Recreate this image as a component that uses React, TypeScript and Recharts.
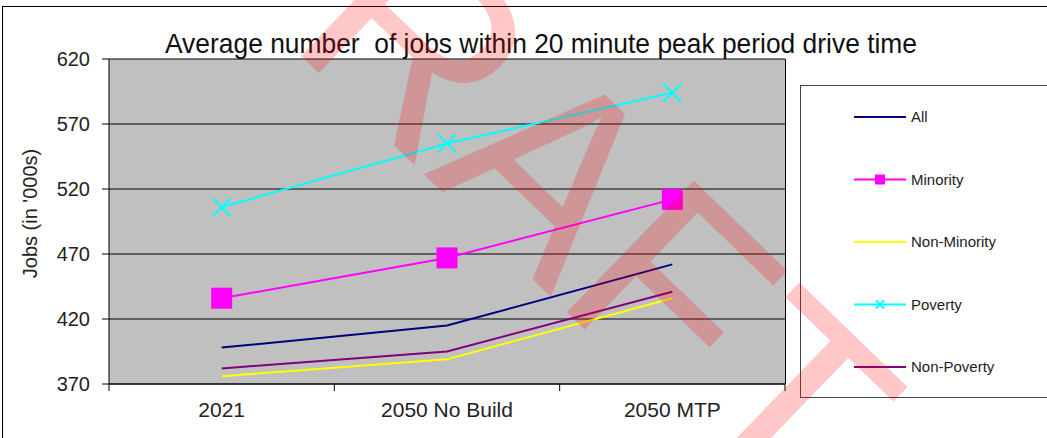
import React from "react";
import { LineChart, Line, XAxis, YAxis, CartesianGrid, Legend } from "recharts";

const categories = ["2021", "2050 No Build", "2050 MTP"];
const allJobs = [398, 415, 462];
const minorityJobs = [436, 467, 512];
const nonMinorityJobs = [376, 389, 436];
const povertyJobs = [506, 555, 594];
const nonPovertyJobs = [382, 395, 441];
const yTicks = [370, 420, 470, 520, 570, 620];

const W = 1047;
const H = 438;
const PLOT_L = 109;
const PLOT_R = 785;
const PLOT_T = 59;
const PLOT_B = 384;
const BAND = (PLOT_R - PLOT_L) / categories.length;
const FONT = "'Liberation Sans', Arial, sans-serif";

const data = categories.map((name, i) => ({
  name,
  all: allJobs[i],
  minority: minorityJobs[i],
  nonMinority: nonMinorityJobs[i],
  poverty: povertyJobs[i],
  nonPoverty: nonPovertyJobs[i],
}));

const series = [
  { key: "all", label: "All", color: "#000080", marker: "none" },
  { key: "minority", label: "Minority", color: "#ff00ff", marker: "square" },
  { key: "nonMinority", label: "Non-Minority", color: "#ffff00", marker: "none" },
  { key: "poverty", label: "Poverty", color: "#00ffff", marker: "x" },
  { key: "nonPoverty", label: "Non-Poverty", color: "#800080", marker: "none" },
];

function SquareDot(props: any) {
  const { cx, cy, fill } = props;
  if (cx == null || cy == null) return null;
  return <rect x={cx - 10.5} y={cy - 10.5} width={21} height={21} fill={fill} />;
}

function CrossDot(props: any) {
  const { cx, cy, stroke } = props;
  if (cx == null || cy == null) return null;
  return (
    <g stroke={stroke} strokeWidth={2}>
      <line x1={cx - 9} y1={cy - 9} x2={cx + 9} y2={cy + 9} />
      <line x1={cx - 9} y1={cy + 9} x2={cx + 9} y2={cy - 9} />
    </g>
  );
}

function XTick(props: any) {
  const { x, y, payload, index } = props;
  const last = index === categories.length - 1;
  return (
    <g>
      <line x1={x - BAND / 2} x2={x - BAND / 2} y1={y} y2={y + 7} stroke="#000" />
      {last && <line x1={x + BAND / 2} x2={x + BAND / 2} y1={y} y2={y + 7} stroke="#000" />}
      <text x={x} y={y + 33} textAnchor="middle" fontSize={21} fill="#222" fontFamily={FONT}>
        {payload.value}
      </text>
    </g>
  );
}

function LegendBox() {
  return (
    <div
      style={{
        width: 260,
        height: 313,
        border: "1px solid #444",
        background: "#fff",
        boxSizing: "border-box",
        position: "relative",
      }}
    >
      <svg width={258} height={311} style={{ position: "absolute", left: 0, top: 0 }}>
        {series.map((s, i) => {
          const cy = 31 + i * 62.5;
          return (
            <g key={s.key}>
              <line x1={53} x2={105} y1={cy} y2={cy} stroke={s.color} strokeWidth={2} />
              {s.marker === "square" && <rect x={74} y={cy - 5} width={10} height={10} fill={s.color} />}
              {s.marker === "x" && (
                <g stroke={s.color} strokeWidth={2}>
                  <line x1={75} y1={cy - 4} x2={83} y2={cy + 4} />
                  <line x1={75} y1={cy + 4} x2={83} y2={cy - 4} />
                </g>
              )}
              <text x={110} y={cy + 5} fontSize={15} fill="#222" fontFamily={FONT}>
                {s.label}
              </text>
            </g>
          );
        })}
      </svg>
    </div>
  );
}

export default function App() {
  return (
    <div style={{ position: "absolute", left: 0, top: 0, width: W, height: H, background: "#fff", overflow: "hidden" }}>
      <div style={{ position: "absolute", left: 2, top: 6, width: W, height: H, borderTop: "1px solid #000", borderLeft: "1px solid #000" }} />
      <LineChart
        width={W}
        height={H}
        data={data}
        margin={{ top: PLOT_T, right: W - PLOT_R, bottom: 0, left: 0 }}
      >
        <CartesianGrid vertical={false} stroke="#000" strokeWidth={1} fill="#c0c0c0" />
        <XAxis
          dataKey="name"
          height={H - PLOT_B}
          padding={{ left: BAND / 2, right: BAND / 2 }}
          axisLine={{ stroke: "#000" }}
          tickLine={false}
          tickSize={0}
          tickMargin={0}
          tick={<XTick />}
          interval={0}
        />
        <YAxis
          width={PLOT_L}
          domain={[370, 620]}
          ticks={yTicks}
          axisLine={{ stroke: "#000" }}
          tickLine={{ stroke: "#000" }}
          tickSize={7}
          tickMargin={12}
          tick={{ fontSize: 20, fill: "#222", fontFamily: FONT }}
          label={{
            value: "Jobs (in '000s)",
            angle: -90,
            position: "insideLeft",
            offset: 30,
            dy: -8,
            style: { fontSize: 20, fill: "#222", fontFamily: FONT, textAnchor: "middle" },
          }}
        />
        <Legend
          layout="horizontal"
          verticalAlign="middle"
          align="center"
          content={<LegendBox />}
          wrapperStyle={{ left: 800, top: 85, width: 260, height: 313 }}
        />
        {series.map((s) => (
          <Line
            key={s.key}
            dataKey={s.key}
            name={s.label}
            stroke={s.color}
            fill={s.color}
            strokeWidth={2}
            isAnimationActive={false}
            dot={s.marker === "square" ? <SquareDot /> : s.marker === "x" ? <CrossDot /> : false}
            activeDot={false}
          />
        ))}
      </LineChart>
      <div
        style={{
          position: "absolute",
          left: PLOT_L,
          top: PLOT_T,
          width: PLOT_R - PLOT_L + 1,
          height: PLOT_B - PLOT_T,
          borderRight: "1px solid #000",
          boxSizing: "border-box",
          pointerEvents: "none",
        }}
      />
      <svg width={W} height={H} style={{ position: "absolute", left: 0, top: 0, pointerEvents: "none" }}>
        <text
          x={541}
          y={53}
          textAnchor="middle"
          fontSize={28}
          textLength={752}
          lengthAdjust="spacingAndGlyphs"
          fill="#111"
          fontFamily={FONT}
          style={{ whiteSpace: "pre" }}
        >
          Average number  of jobs within 20 minute peak period drive time
        </text>
        <text
          transform="translate(466,215) rotate(44)"
          textAnchor="middle"
          fontSize={266}
          fill="rgba(255,0,0,0.22)"
          fontFamily={FONT}
        >
          DRAFT
        </text>
      </svg>
    </div>
  );
}
